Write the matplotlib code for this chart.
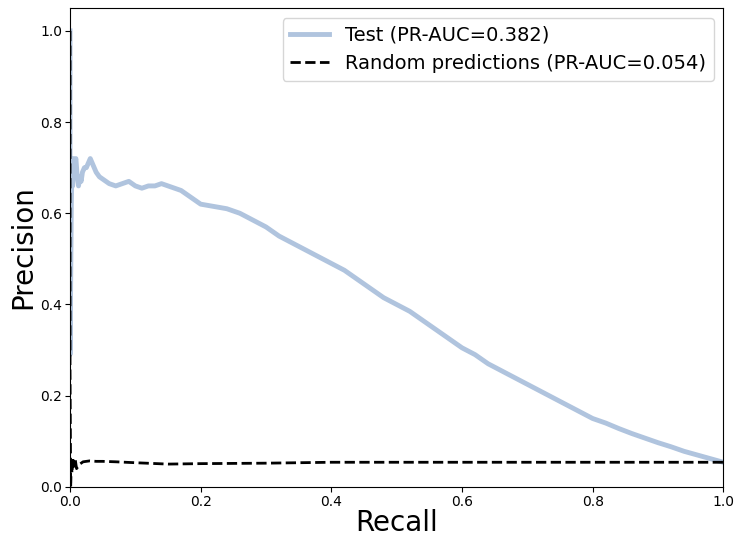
import matplotlib
matplotlib.use('Agg')
import matplotlib.pyplot as plt

# precision-recall curve of the test set
test_recall = [0.0, 0.0, 0.001, 0.002, 0.003, 0.004, 0.005, 0.007, 0.009, 0.011,
               0.013, 0.015, 0.017, 0.019, 0.022, 0.025, 0.028, 0.031, 0.034, 0.037,
               0.04, 0.045, 0.05, 0.055, 0.06, 0.07, 0.08, 0.09, 0.1, 0.11,
               0.12, 0.13, 0.14, 0.15, 0.16, 0.17, 0.18, 0.19, 0.2, 0.22,
               0.24, 0.26, 0.28, 0.3, 0.32, 0.34, 0.36, 0.38, 0.4, 0.42,
               0.44, 0.46, 0.48, 0.5, 0.52, 0.54, 0.56, 0.58, 0.6, 0.62,
               0.64, 0.66, 0.68, 0.7, 0.72, 0.74, 0.76, 0.78, 0.8, 0.82,
               0.84, 0.86, 0.88, 0.9, 0.92, 0.94, 0.96, 0.98, 1.0]
test_precision = [1.0, 0.29, 0.45, 0.62, 0.70, 0.66, 0.72, 0.71, 0.72, 0.68,
                  0.66, 0.68, 0.67, 0.69, 0.70, 0.70, 0.71, 0.72, 0.71, 0.70,
                  0.69, 0.68, 0.675, 0.67, 0.665, 0.66, 0.665, 0.67, 0.66, 0.655,
                  0.66, 0.66, 0.665, 0.66, 0.655, 0.65, 0.64, 0.63, 0.62, 0.615,
                  0.61, 0.60, 0.585, 0.57, 0.55, 0.535, 0.52, 0.505, 0.49, 0.475,
                  0.455, 0.435, 0.415, 0.40, 0.385, 0.365, 0.345, 0.325, 0.305, 0.29,
                  0.27, 0.255, 0.24, 0.225, 0.21, 0.195, 0.18, 0.165, 0.15, 0.14,
                  0.128, 0.117, 0.107, 0.097, 0.088, 0.078, 0.07, 0.062, 0.054]

# random predictions baseline
rand_recall = [0.0, 0.0, 0.001, 0.002, 0.003, 0.004, 0.006, 0.008, 0.01, 0.015,
               0.02, 0.03, 0.04, 0.05, 0.07, 0.1, 0.15, 0.2, 0.3, 0.4,
               0.5, 0.6, 0.7, 0.8, 0.9, 1.0]
rand_precision = [1.0, 0.26, 0.0, 0.06, 0.03, 0.065, 0.045, 0.06, 0.04, 0.05,
                  0.055, 0.057, 0.056, 0.056, 0.055, 0.053, 0.05, 0.051, 0.052, 0.054,
                  0.054, 0.054, 0.054, 0.054, 0.054, 0.054]

fig = plt.figure(figsize=(7.34, 5.38), dpi=100)
ax = fig.add_axes([0.0954, 0.095, 0.89, 0.89])
ax.plot(test_recall, test_precision, color='lightsteelblue', lw=3.5,
        label='Test (PR-AUC=0.382)')
ax.plot(rand_recall, rand_precision, 'k--', lw=2,
        label='Random predictions (PR-AUC=0.054)')
ax.set_xlim(0, 1)
ax.set_ylim(0, 1.05)
ax.tick_params(labelsize=10, pad=2)
ax.set_xlabel('Recall', fontsize=20, labelpad=0)
ax.set_ylabel('Precision', fontsize=20, labelpad=2)
ax.legend(loc='upper right', fontsize=14)
fig.savefig('out.png', dpi=100)
